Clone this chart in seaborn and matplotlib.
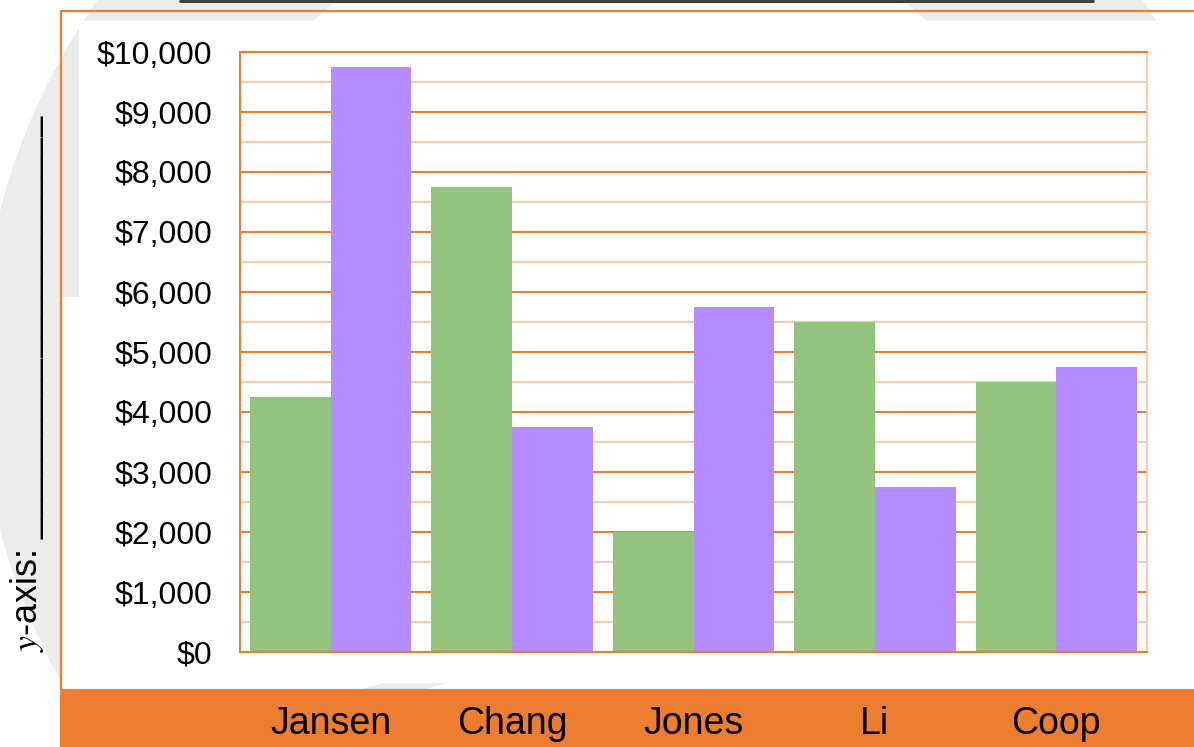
import matplotlib
matplotlib.use("Agg")
import matplotlib.pyplot as plt
import matplotlib.patches as mpatches
import matplotlib.lines as mlines
from matplotlib.transforms import IdentityTransform
from matplotlib.ticker import MultipleLocator, StrMethodFormatter
import seaborn as sns
import pandas as pd

# ---- data ----
names = ["Jansen", "Chang", "Jones", "Li", "Coop"]
series_names = ["A", "B"]
values_a = [4250, 7750, 2000, 5500, 4500]
values_b = [9750, 3750, 5750, 2750, 4750]
y_ticks = [0, 1000, 2000, 3000, 4000, 5000, 6000, 7000, 8000, 9000, 10000]
y_label = "-axis: "

df = pd.DataFrame({
    "name": names * 2,
    "series": [series_names[0]] * len(names) + [series_names[1]] * len(names),
    "value": values_a + values_b,
})

sns.set_style("white")
plt.rcParams["font.family"] = ["Liberation Sans", "DejaVu Sans"]
plt.rcParams["mathtext.fontset"] = "stix"

ORANGE = "#ED7D31"
LIGHT = "#F8CBAD"
GREEN = "#93C47D"
PURPLE = "#B48CFF"
WATER = "#ececec"

W, H = 1194, 747
fig = plt.figure(figsize=(W / 100, H / 100), dpi=100)
fig.patch.set_facecolor("white")

def fx(px):
    return px / W

def fy(py):
    return 1 - py / H

# watermark ring (display pixel coordinates)
ring = mpatches.Wedge((620, H - 370), 640, 0, 360, width=175,
                      facecolor=WATER, edgecolor="none",
                      transform=IdentityTransform(), zorder=-5)
fig.add_artist(ring)

# white inner panel
fig.add_artist(mpatches.Rectangle((fx(79), fy(690)), fx(1194 - 79), (690 - 21) / H,
                                  transform=fig.transFigure, facecolor="white",
                                  edgecolor="none", zorder=-4))
fig.add_artist(mpatches.Rectangle((fx(60), fy(690)), fx(20), (690 - 297) / H,
                                  transform=fig.transFigure, facecolor="white",
                                  edgecolor="none", zorder=-4))
# small watermark fragment above the band
fig.add_artist(mpatches.Polygon([(353, H - 692), (383, H - 683), (447, H - 683), (417, H - 692)],
                                closed=True, facecolor=WATER, edgecolor="none",
                                transform=IdentityTransform(), zorder=-3.5))
# orange frame
fig.add_artist(mpatches.Rectangle((fx(61), fy(690)), fx(1200 - 61), (690 - 11) / H,
                                  transform=fig.transFigure, facecolor="none",
                                  edgecolor=ORANGE, lw=1.6, zorder=-3))
# orange bottom band
fig.add_artist(mpatches.Rectangle((fx(60), 0), fx(1194 - 60), (H - 690) / H,
                                  transform=fig.transFigure, facecolor=ORANGE,
                                  edgecolor="none", zorder=-2))
# top dark line
fig.add_artist(mlines.Line2D([fx(180), fx(1093)], [fy(1), fy(1)],
                             transform=fig.transFigure, color="#333333", lw=2))

ax = fig.add_axes([fx(240), fy(652), fx(1147 - 240), (652 - 52) / H])
sns.barplot(data=df, x="name", y="value", hue="series", order=names,
            hue_order=series_names, palette=[GREEN, PURPLE], width=0.89,
            saturation=1, edgecolor="none", linewidth=0, legend=False, ax=ax)

ax.set_ylim(0, 10000)
ax.set_yticks(y_ticks)
ax.yaxis.set_minor_locator(MultipleLocator(500))
ax.yaxis.set_major_formatter(StrMethodFormatter("${x:,.0f}"))
ax.set_axisbelow(True)
ax.grid(which="major", axis="y", color=ORANGE, lw=1.5)
ax.grid(which="minor", axis="y", color=LIGHT, lw=1.5)
ax.grid(which="major", axis="x", visible=False)

for side in ["left", "bottom", "top"]:
    ax.spines[side].set_visible(True)
    ax.spines[side].set_color(ORANGE)
    ax.spines[side].set_linewidth(1.5)
ax.spines["right"].set_visible(True)
ax.spines["right"].set_color(LIGHT)
ax.spines["right"].set_linewidth(1.5)

ax.tick_params(axis="y", which="both", direction="in", length=6, width=1.5,
               color=ORANGE, labelsize=23, pad=20, labelcolor="black")
ax.tick_params(axis="x", length=0, labelsize=27, pad=52, labelcolor="black")
for lab in ax.get_xticklabels():
    lab.set_verticalalignment("center")

ax.set_xlabel("")
ax.set_ylabel("")

fig.text(fx(27), fy(652), r"$y$" + y_label + "_" * 21, rotation=90,
         ha="center", va="bottom", fontsize=26, color="black")

fig.savefig("out.png", dpi=100)
